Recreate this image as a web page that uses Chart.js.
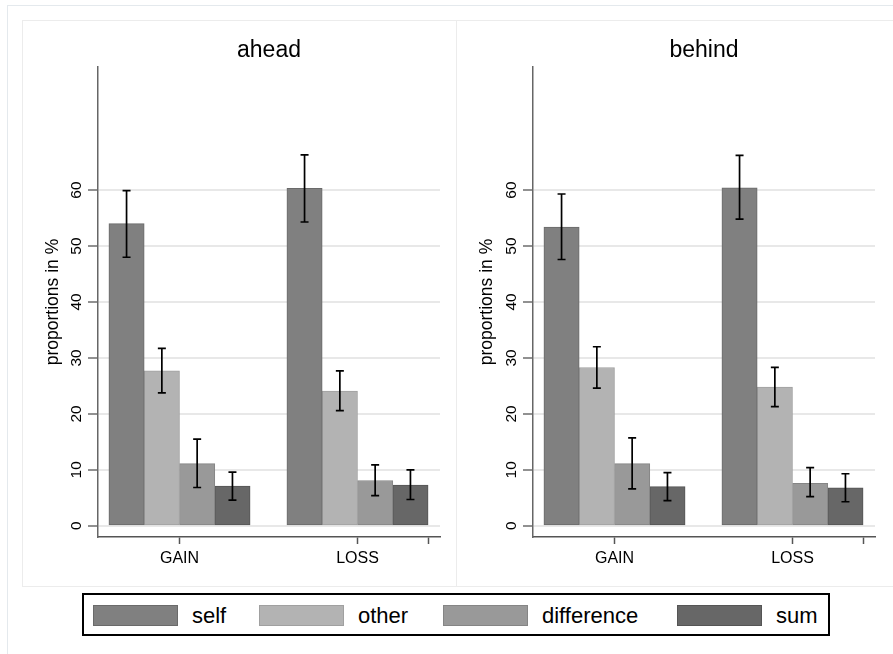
<!DOCTYPE html>
<html><head><meta charset="utf-8">
<script src="https://cdn.jsdelivr.net/npm/chart.js@4.4.0/dist/chart.umd.min.js"></script>
<style>
html,body{margin:0;padding:0;background:#fff;width:893px;height:654px;overflow:hidden;font-family:"Liberation Sans",Arial,sans-serif;}
#frame{position:absolute;left:7px;top:5px;width:900px;height:700px;border:1px solid #e4e9ed;box-sizing:border-box;}
.pborder{position:absolute;top:20px;height:567px;border:1px solid #ececec;box-sizing:border-box;}
#b1{left:22px;width:435px;}
#b2{left:456px;width:445px;}
.wrap{position:absolute;top:20px;height:566px;}
#w1{left:22px;width:434px;}
#w2{left:456px;width:436px;}
#legend{position:absolute;left:82px;top:593px;width:748px;height:43px;border:2px solid #000;box-sizing:border-box;}
.item{position:absolute;top:10px;height:21px;display:flex;align-items:center;}
.sw{width:85px;height:21px;box-sizing:border-box;border:1px solid #777;}
.lt{margin-left:14px;font-size:22px;color:#000;line-height:21px;}
</style></head>
<body>
<div id="frame"></div>
<div class="pborder" id="b1"></div>
<div class="pborder" id="b2"></div>
<div class="wrap" id="w1"><canvas id="c1"></canvas></div>
<div class="wrap" id="w2"><canvas id="c2"></canvas></div>
<div id="legend"></div>
<script>
// ---- data ----
const categories = ['GAIN', 'LOSS'];
const seriesNames = ['self', 'other', 'difference', 'sum'];
const panelTitles = ['ahead', 'behind'];
const yTickValues = [0, 10, 20, 30, 40, 50, 60];
const yTickLabels = ['0', '10', '20', '30', '40', '50', '60'];
const xTickValues = [1, 2, 2.4017];
const xTickLabels = ['GAIN', 'LOSS', ''];

// ahead panel
const aheadSelf = [54.0, 60.3];
const aheadSelfLow = [48.0, 54.3];
const aheadSelfHigh = [59.9, 66.3];
const aheadOther = [27.7, 24.1];
const aheadOtherLow = [23.75, 20.6];
const aheadOtherHigh = [31.7, 27.7];
const aheadDiff = [11.1, 8.1];
const aheadDiffLow = [6.85, 5.4];
const aheadDiffHigh = [15.5, 10.9];
const aheadSum = [7.1, 7.3];
const aheadSumLow = [4.6, 4.7];
const aheadSumHigh = [9.6, 10.0];

// behind panel
const behindSelf = [53.4, 60.4];
const behindSelfLow = [47.6, 54.8];
const behindSelfHigh = [59.3, 66.2];
const behindOther = [28.3, 24.8];
const behindOtherLow = [24.6, 21.3];
const behindOtherHigh = [32.0, 28.3];
const behindDiff = [11.1, 7.6];
const behindDiffLow = [6.6, 5.2];
const behindDiffHigh = [15.7, 10.4];
const behindSum = [7.0, 6.8];
const behindSumLow = [4.5, 4.3];
const behindSumHigh = [9.5, 9.3];

// ---- styles ----
const fills = ['#808080', '#b3b3b3', '#999999', '#676767'];
const borders = ['#6a6a6a', '#a0a0a0', '#858585', '#555555'];
const legendLefts = [9, 175, 359, 593];
const FONT = '"Liberation Sans", Arial, sans-serif';

function makeDatasets(vals, lows, highs) {
  return vals.map((v, s) => ({
    label: seriesNames[s],
    data: v.map((y, i) => ({ x: i + 1, y: y })),
    errLow: lows[s],
    errHigh: highs[s],
    backgroundColor: fills[s],
    borderColor: borders[s],
    borderWidth: 1,
    borderSkipped: false,
    barThickness: 35.3
  }));
}

const errorBars = {
  id: 'errorBars',
  afterDatasetsDraw(chart) {
    const ctx = chart.ctx, y = chart.scales.y;
    ctx.save();
    ctx.strokeStyle = '#000';
    ctx.lineWidth = 1.7;
    chart.data.datasets.forEach((ds, di) => {
      chart.getDatasetMeta(di).data.forEach((bar, j) => {
        const lo = y.getPixelForValue(ds.errLow[j]);
        const hi = y.getPixelForValue(ds.errHigh[j]);
        const x = bar.x;
        ctx.beginPath();
        ctx.moveTo(x, lo); ctx.lineTo(x, hi);
        ctx.moveTo(x - 4, lo); ctx.lineTo(x + 4, lo);
        ctx.moveTo(x - 4, hi); ctx.lineTo(x + 4, hi);
        ctx.stroke();
      });
    });
    ctx.restore();
  }
};

const yLabels = {
  id: 'yLabels',
  afterDraw(chart, args, opts) {
    const ctx = chart.ctx, y = chart.scales.y, ca = chart.chartArea;
    ctx.save();
    ctx.fillStyle = '#000';
    ctx.font = '15.5px ' + FONT;
    ctx.textAlign = 'center';
    ctx.textBaseline = 'middle';
    y.ticks.forEach((t, i) => {
      const py = y.getPixelForValue(t.value);
      ctx.save();
      ctx.translate(ca.left - 21, py);
      ctx.rotate(-Math.PI / 2);
      ctx.fillText(yTickLabels[i], 0, 0);
      ctx.restore();
    });
    // panel title
    ctx.font = '23px ' + FONT;
    ctx.fillText(opts.title, (ca.left + ca.right) / 2, 31);
    ctx.restore();
  }
};

function makeChart(id, datasets, title, rightPad, yWidth) {
  return new Chart(document.getElementById(id), {
    type: 'bar',
    data: { datasets: datasets },
    plugins: [errorBars, yLabels],
    options: {
      responsive: true,
      maintainAspectRatio: false,
      animation: false,
      layout: { padding: { left: 0, right: rightPad, top: 47, bottom: 0 } },
      plugins: {
        legend: { display: false },
        tooltip: { enabled: false },
        yLabels: { title: title }
      },
      scales: {
        x: {
          type: 'linear',
          offset: false,
          min: 0.5421,
          max: 2.4635,
          afterBuildTicks(s) { s.ticks = xTickValues.map(v => ({ value: v })); },
          afterFit(s) { s.height = 49; },
          ticks: {
            autoSkip: false,
            maxRotation: 0,
            color: '#000',
            font: { family: FONT, size: 16 },
            padding: 5,
            callback: (v, i) => xTickLabels[i]
          },
          grid: { offset: false, drawOnChartArea: false, drawTicks: true, tickLength: 7, tickColor: '#555', tickWidth: 1.5 },
          border: { display: true, color: '#555', width: 1.5 }
        },
        y: {
          type: 'linear',
          min: -2,
          max: 82,
          afterBuildTicks(s) { s.ticks = yTickValues.map(v => ({ value: v })); },
          afterFit(s) { s.width = yWidth; },
          ticks: { display: false, autoSkip: false },
          grid: { color: '#e8e8e8', lineWidth: 2, drawTicks: true, tickLength: 10, tickColor: '#555', tickWidth: 1.3 },
          border: { display: true, color: '#666', width: 1.5 },
          title: {
            display: true,
            text: 'proportions in %',
            color: '#000',
            font: { family: FONT, size: 17.5 },
            padding: { top: 21, bottom: 0 }
          }
        }
      }
    }
  });
}

makeChart('c1', makeDatasets(
  [aheadSelf, aheadOther, aheadDiff, aheadSum],
  [aheadSelfLow, aheadOtherLow, aheadDiffLow, aheadSumLow],
  [aheadSelfHigh, aheadOtherHigh, aheadDiffHigh, aheadSumHigh]), panelTitles[0], 16, 76);

makeChart('c2', makeDatasets(
  [behindSelf, behindOther, behindDiff, behindSum],
  [behindSelfLow, behindOtherLow, behindDiffLow, behindSumLow],
  [behindSelfHigh, behindOtherHigh, behindDiffHigh, behindSumHigh]), panelTitles[1], 17, 77);

// legend (HTML)
const lg = document.getElementById('legend');
seriesNames.forEach((n, i) => {
  const it = document.createElement('div'); it.className = 'item';
  it.style.left = legendLefts[i] + 'px';
  const sw = document.createElement('div'); sw.className = 'sw';
  sw.style.background = fills[i]; sw.style.borderColor = borders[i];
  const t = document.createElement('span'); t.className = 'lt'; t.textContent = n;
  it.appendChild(sw); it.appendChild(t); lg.appendChild(it);
});
</script>
</body></html>
